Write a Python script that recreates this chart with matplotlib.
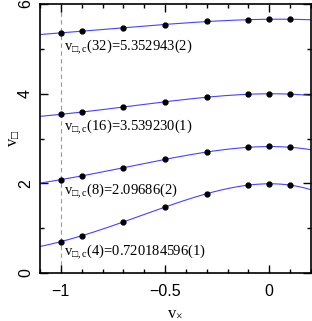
import numpy as np
import matplotlib
matplotlib.use("Agg")
import matplotlib.pyplot as plt
from matplotlib.ticker import MultipleLocator

# coupling values
vx = [-1.0, -0.9, -0.7, -0.5, -0.3, -0.1, 0.0, 0.1]

# critical v_square for each L
v_L32 = [5.357, 5.39, 5.475, 5.54, 5.61, 5.65, 5.66, 5.66]
v_L16 = [3.54, 3.587, 3.705, 3.817, 3.92, 3.99, 3.995, 3.99]
v_L8 = [2.083, 2.165, 2.344, 2.545, 2.69, 2.80, 2.83, 2.80]
v_L4 = [0.70, 0.83, 1.14, 1.47, 1.77, 1.96, 1.99, 1.96]

series = [v_L32, v_L16, v_L8, v_L4]
labels = [
    "v$_{\u25a1\\mathregular{,c}}$(32)=5.352943(2)",
    "v$_{\u25a1\\mathregular{,c}}$(16)=3.539230(1)",
    "v$_{\u25a1\\mathregular{,c}}$(8)=2.09686(2)",
    "v$_{\u25a1\\mathregular{,c}}$(4)=0.720184596(1)",
]
label_y = [5.04, 3.26, 1.83, 0.47]

plt.rcParams["font.family"] = ["Liberation Serif", "DejaVu Sans"]
plt.rcParams["mathtext.fontset"] = "custom"
plt.rcParams["mathtext.rm"] = "Liberation Serif"
plt.rcParams["mathtext.it"] = "Liberation Serif"
plt.rcParams["mathtext.fallback"] = "stixsans"

fig = plt.figure(figsize=(3.12, 3.21), dpi=100)
ax = fig.add_axes([40 / 312, 48 / 321, 271 / 312, 269 / 321])

xs = np.linspace(-1.1, 0.2, 200)
ax.axvline(-1.0, color="#999999", lw=0.8, ls=(0, (4, 3)), zorder=1)
for ys, lab, ly in zip(series, labels, label_y):
    coef = np.polyfit(vx, ys, 4)
    ax.plot(xs, np.polyval(coef, xs), color="#4444ff", lw=0.8, zorder=2)
    ax.plot(vx, ys, "o", color="black", ms=3.5, zorder=3)
    ax.text(-0.985, ly, lab, fontsize=10.5, va="center", ha="left")

ax.set_xlim(-1.1, 0.2)
ax.set_ylim(0, 6)
ax.xaxis.set_major_locator(MultipleLocator(0.5))
ax.xaxis.set_minor_locator(MultipleLocator(0.1))
ax.yaxis.set_major_locator(MultipleLocator(2))
ax.yaxis.set_minor_locator(MultipleLocator(1))
ax.tick_params(which="both", direction="in", top=True, right=True, width=1)
ax.tick_params(which="major", length=6, labelsize=11.5)
ax.tick_params(which="minor", length=3)
ax.tick_params(axis="x", pad=8)
ax.tick_params(axis="y", pad=5)
ax.set_xticks([-1, -0.5, 0])
ax.set_xticklabels(["\u22121", "\u22120.5", "0"], family="Liberation Sans")
ax.set_yticks([0, 2, 4, 6])
ax.set_yticklabels(["0", "2", "4", "6"], family="Liberation Sans", rotation=90, va="center")
for s in ax.spines.values():
    s.set_linewidth(1.2)

ax.set_xlabel("v$_{\u00d7}$", fontsize=12)
ax.xaxis.set_label_coords(0.5, -0.12)
ax.set_ylabel("v$_{\u25a1}$", fontsize=12)
ax.yaxis.set_label_coords(-0.065, 0.5)

fig.savefig("out.png", dpi=100)
